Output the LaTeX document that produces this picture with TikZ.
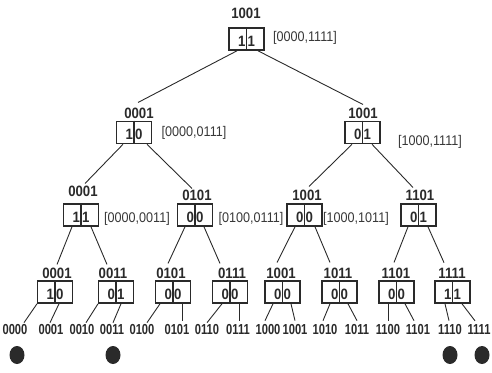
\documentclass[tikz,border=0pt]{standalone}
\usepackage{fontspec}
\setmainfont{Liberation Sans}[FakeStretch=0.88]
\newfontfamily\rngfont{Liberation Sans}[FakeStretch=0.9]
\newfontfamily\leaffont{Liberation Sans}[FakeStretch=0.77]
\usetikzlibrary{calc,shapes.geometric}
\definecolor{ink}{HTML}{2A2A2A}
\definecolor{rngc}{HTML}{383838}
\tikzset{
  x=1pt, y=-1pt,
  bx/.style={draw=ink, line width=1.6pt, minimum width=35pt, minimum height=22pt, inner sep=0pt},
  lab/.style={font=\bfseries\fontsize{15}{15}\selectfont, text=ink, inner sep=0pt},
  leaf/.style={font=\leaffont\bfseries\fontsize{14.5}{14.5}\selectfont, text=ink, inner sep=0pt},
  rng/.style={font=\rngfont\fontsize{14}{14}\selectfont, text=rngc, inner sep=0pt},
  dig/.style={font=\bfseries\fontsize{15}{15}\selectfont, text=ink, inner sep=0.8pt},
  conn/.style={draw=ink, line width=0.9pt},
  blob/.style={ellipse, fill=ink, minimum width=15pt, minimum height=18pt, inner sep=0pt}
}
\newcommand{\bitbox}[5]{%
  \node[bx] (#1) at (#2,#3) {};
  \draw[ink, line width=1.2pt] (#1.north) -- (#1.south);
  \node[dig, anchor=east] (#1l) at ([yshift=-2pt]#1.center) {#4};
  \node[dig, anchor=west] (#1r) at ([yshift=-2pt]#1.center) {#5};
}
\newcommand{\conline}[5]{%
  \draw[conn] ($(#1.south)+(#2,0)$) -- ($(#3.north)+(#4,#5)$);
}
\begin{document}
\begin{tikzpicture}
\useasboundingbox (0,0) rectangle (492,372);
% root
\bitbox{b0}{246.5}{39}{1}{1}
\node[lab] (t0) at (246,13) {1001};
\node[rng] (i0) at (305,38) {[0000,1111]};
% level 1
\bitbox{b1}{134}{132.5}{1}{0}
\node[lab] (t1) at (139,113) {0001};
\node[rng] (i1) at (194,133) {[0000,0111]};
\bitbox{b2}{362.5}{132.5}{0}{1}
\node[lab] (t2) at (363,113) {1001};
\node[rng] (i2) at (430,142) {[1000,1111]};
% level 2
\bitbox{b3}{81}{215}{1}{1}
\node[lab] (t3) at (83,191) {0001};
\node[rng] (i3) at (137,219) {[0000,0011]};
\bitbox{b4}{195}{215}{0}{0}
\node[lab] (t4) at (197,195) {0101};
\node[rng] (i4) at (251,219) {[0100,0111]};
\bitbox{b5}{304.5}{215}{0}{0}
\node[lab] (t5) at (307,195) {1001};
\node[rng] (i5) at (356,219) {[1000,1011]};
\bitbox{b6}{418.5}{215}{0}{1}
\node[lab] (t6) at (420,195) {1101};
% level 3
\bitbox{b7}{55}{292}{1}{0}
\node[lab] (t7) at (57,273) {0001};
\bitbox{b8}{116}{292}{0}{1}
\node[lab] (t8) at (113,273) {0011};
\bitbox{b9}{173}{292}{0}{0}
\node[lab] (t9) at (171,273) {0101};
\bitbox{b10}{230}{292}{0}{0}
\node[lab] (t10) at (232,273) {0111};
\bitbox{b11}{282.5}{292}{0}{0}
\node[lab] (t11) at (281,273) {1001};
\bitbox{b12}{339.5}{292}{0}{0}
\node[lab] (t12) at (338,273) {1011};
\bitbox{b13}{396.5}{292}{0}{0}
\node[lab] (t13) at (396,273) {1101};
\bitbox{b14}{452.5}{292}{1}{1}
\node[lab] (t14) at (452,273) {1111};
% leaves
\node[leaf] (l0) at (15,330) {0000};
\node[leaf] (l1) at (51,330) {0001};
\node[leaf] (l2) at (82,330) {0010};
\node[leaf] (l3) at (112,330) {0011};
\node[leaf] (l4) at (142,330) {0100};
\node[leaf] (l5) at (177,330) {0101};
\node[leaf] (l6) at (207,330) {0110};
\node[leaf] (l7) at (238,330) {0111};
\node[leaf] (l8) at (268,330) {1000};
\node[leaf] (l9) at (295,330) {1001};
\node[leaf] (l10) at (325,330) {1010};
\node[leaf] (l11) at (357,330) {1011};
\node[leaf] (l12) at (388,330) {1100};
\node[leaf] (l13) at (418,330) {1101};
\node[leaf] (l14) at (450,330) {1110};
\node[leaf] (l15) at (479,330) {1111};
% marked leaves
\node[blob] (d0) at (17,355) {};
\node[blob] (d3) at (113,355) {};
\node[blob] (d14) at (450,355) {};
\node[blob] (d15) at (482,355) {};
% connectors
\conline{b0}{-9.5}{t1}{-1}{-5}
\conline{b0}{11.5}{t2}{0}{-3}
\conline{b1}{-11}{t3}{2}{-2}
\conline{b1}{13}{t4}{-5}{-1}
\conline{b2}{-10.5}{t5}{2}{-3}
\conline{b2}{9.5}{t6}{-7}{-2}
\conline{b3}{-9}{t7}{0}{-3}
\conline{b3}{10}{t8}{-6}{-3}
\conline{b4}{-10}{t9}{-3}{-4}
\conline{b4}{9}{t10}{-12}{-4}
\conline{b5}{-9.5}{t11}{-4}{-5}
\conline{b5}{10.5}{t12}{-8}{-5}
\conline{b6}{-10.5}{t13}{-2}{-5}
\conline{b6}{9.5}{t14}{-8}{-5}
\conline{b7}{-18}{l0}{9}{-2}
\conline{b7}{4}{l1}{-1}{-2}
\conline{b8}{-18}{l2}{4}{-2}
\conline{b8}{5}{l3}{1}{-2}
\conline{b9}{-13}{l4}{5}{-2}
\conline{b9}{9}{l5}{5}{-4}
\conline{b10}{-8}{l6}{0}{-2}
\conline{b10}{9}{l7}{1}{-4}
\conline{b11}{-9.5}{l8}{-3}{-4}
\conline{b11}{8.5}{l9}{0}{-4}
\conline{b12}{-9.5}{l10}{-2}{-4}
\conline{b12}{8.5}{l11}{0}{-4}
\conline{b13}{-8.5}{l12}{0}{-4}
\conline{b13}{8.5}{l13}{-4}{-4}
\conline{b14}{-7.5}{l14}{-1}{-4}
\conline{b14}{9.5}{l15}{-4}{-4}
\end{tikzpicture}
\end{document}
